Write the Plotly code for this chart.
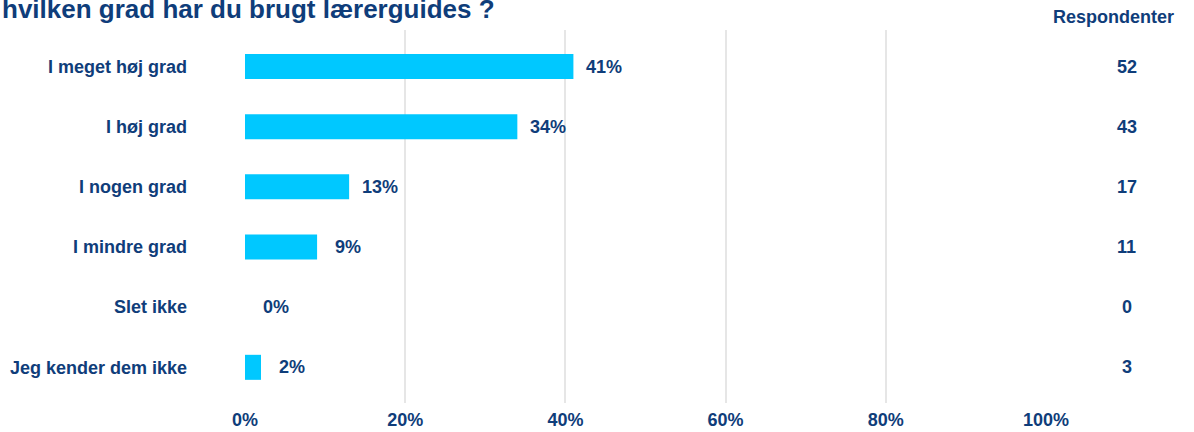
import plotly.graph_objects as go

# Survey answers: share of respondents per answer and respondent counts
categories = ["I meget høj grad", "I høj grad", "I nogen grad", "I mindre grad", "Slet ikke", "Jeg kender dem ikke"]
percent = [41, 34, 13, 9, 0, 2]
respondents = [52, 43, 17, 11, 0, 3]
x_ticks = [0, 20, 40, 60, 80, 100]
x_tick_labels = ["0%", "20%", "40%", "60%", "80%", "100%"]

title_text = "hvilken grad har du brugt lærerguides ?"
count_header = "Respondenter"

NAVY = "#0f3d7a"
BAR = "#00c8ff"
FONT = "Liberation Sans"
FS = 18

fig = go.Figure()
fig.add_trace(go.Bar(
    x=percent,
    y=categories,
    orientation="h",
    marker=dict(color=BAR, line=dict(width=0)),
    width=0.416,
    hoverinfo="skip",
))

annotations = []
# value labels to the right of each bar
for cat, p in zip(categories, percent):
    annotations.append(dict(
        x=p, y=cat, xref="x", yref="y", text=f"<b>{p}%</b>",
        showarrow=False, xanchor="center", xshift=31,
        font=dict(family=FONT, size=FS, color=NAVY),
    ))
# respondent counts in a column at the right
for cat, n in zip(categories, respondents):
    annotations.append(dict(
        x=1.101, y=cat, xref="paper", yref="y", text=f"<b>{n}</b>",
        showarrow=False, xanchor="center",
        font=dict(family=FONT, size=FS, color=NAVY),
    ))
annotations.append(dict(
    x=1.0837, y=1.035, xref="paper", yref="paper", text=f"<b>{count_header}</b>",
    showarrow=False, xanchor="center", yanchor="middle",
    font=dict(family=FONT, size=FS, color=NAVY),
))
annotations.append(dict(
    x=-0.3059, y=1.055, xref="paper", yref="paper", text=f"<b>{title_text}</b>",
    showarrow=False, xanchor="left", yanchor="middle",
    font=dict(family=FONT, size=26, color=NAVY),
))

fig.update_layout(
    width=1194, height=432,
    margin=dict(l=245, r=148, t=30, b=29, autoexpand=False),
    paper_bgcolor="white", plot_bgcolor="white",
    showlegend=False,
    font=dict(family=FONT, color=NAVY),
    xaxis=dict(
        range=[0, 100], tickvals=x_ticks, ticktext=[f"<b>{t}</b>" for t in x_tick_labels],
        showgrid=True, gridcolor="#e6e6e6", gridwidth=2,
        zeroline=False, showline=False, ticks="",
        ticklabelstandoff=4, automargin=False,
        tickfont=dict(family=FONT, size=FS, color=NAVY),
        fixedrange=True,
    ),
    yaxis=dict(
        type="category", categoryorder="array", categoryarray=categories,
        range=[5.593, -0.607],
        tickvals=categories, ticktext=[f"<b>{c}</b>" for c in categories],
        showgrid=False, zeroline=False, showline=False, ticks="",
        ticklabelstandoff=57, automargin=False,
        tickfont=dict(family=FONT, size=FS, color=NAVY),
        fixedrange=True,
    ),
    annotations=annotations,
)

fig.write_html("out.html", config={"displayModeBar": False})
